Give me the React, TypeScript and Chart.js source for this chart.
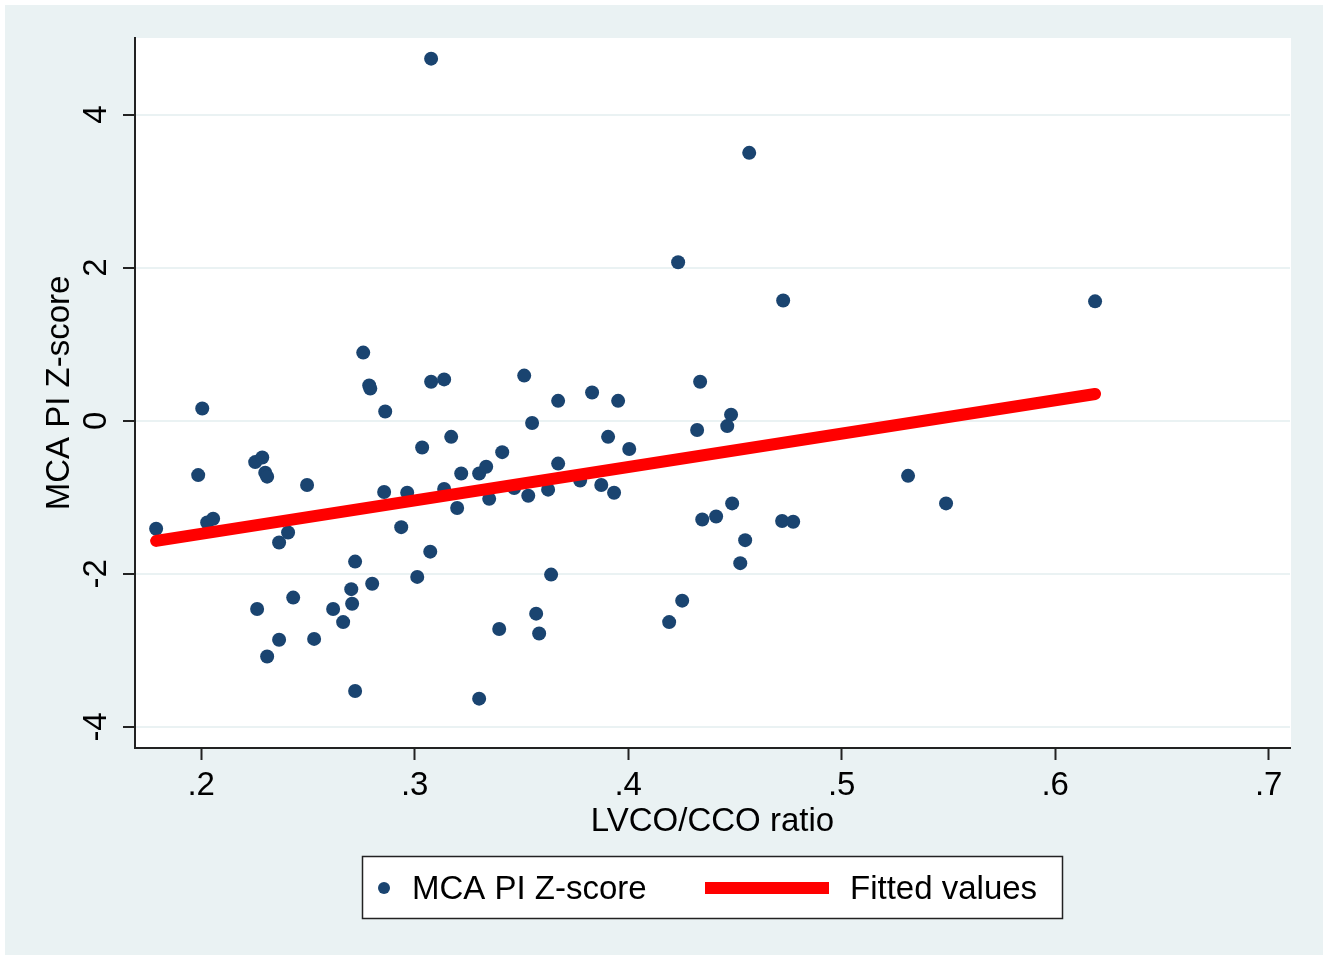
import React, { useEffect, useRef } from 'react';
import { Chart, registerables } from 'chart.js';

Chart.register(...registerables);

// LVCO/CCO ratio (x) and MCA PI Z-score (y)
const lvcoRatio = [
  0.1789, 0.1986, 0.2005, 0.2028, 0.2056, 0.2253, 0.2286, 0.23, 0.2309, 0.2262,
  0.2309, 0.2365, 0.2365, 0.2407, 0.2431, 0.2496, 0.2529, 0.2618, 0.2665, 0.2703,
  0.2707, 0.2721, 0.2721, 0.2759, 0.2787, 0.2792, 0.2801, 0.2862, 0.2857, 0.2937,
  0.2965, 0.3012, 0.3035, 0.3077, 0.3138, 0.3073, 0.3077, 0.3138, 0.3171, 0.3199,
  0.3218, 0.3302, 0.3335, 0.3349, 0.3302, 0.3396, 0.341, 0.3466, 0.3513, 0.3532,
  0.355, 0.3569, 0.3583, 0.3625, 0.3639, 0.3672, 0.3672, 0.3775, 0.3831, 0.3874,
  0.3906, 0.3934, 0.3953, 0.4005, 0.4192, 0.4234, 0.4253, 0.4323, 0.4337, 0.4347,
  0.4412, 0.4464, 0.4482, 0.4487, 0.4525, 0.4548, 0.4567, 0.4721, 0.4726, 0.4773,
  0.5311, 0.5489, 0.6187,
];
const mcaZScore = [
  -1.41, -0.71, 0.16, -1.33, -1.28, -0.54, -0.48, -0.68, -0.73, -2.46,
  -3.08, -1.59, -2.86, -1.46, -2.31, -0.84, -2.85, -2.46, -2.63, -2.2,
  -2.39, -1.84, -3.53, 0.89, 0.46, 0.42, -2.13, 0.12, -0.93, -1.39,
  -0.94, -2.04, -0.35, 0.51, 0.54, -1.71, 4.73, -0.89, -0.21, -1.14,
  -0.69, -0.69, -0.6, -1.02, -3.63, -2.72, -0.41, -0.88, 0.59, -0.98,
  -0.03, -2.52, -2.78, -0.9, -2.01, 0.26, -0.56, -0.78, 0.37, -0.84,
  -0.21, -0.94, 0.26, -0.37, -2.63, 2.07, -2.35, -0.12, 0.51, -1.29,
  -1.25, -0.07, 0.08, -1.08, -1.86, -1.56, 3.5, -1.31, 1.57, -1.32,
  -0.72, -1.08, 1.56,
];
// Fitted regression line end points
const fitX = [0.1789, 0.6187];
const fitY = [-1.57, 0.35];

const xTicks = [0.2, 0.3, 0.4, 0.5, 0.6, 0.7];
const xTickLabels = ['.2', '.3', '.4', '.5', '.6', '.7'];
const yTicks = [-4, -2, 0, 2, 4];
const yTickLabels = ['-4', '-2', '0', '2', '4'];
const seriesLabels = ['MCA PI Z-score', 'Fitted values'];
const xTitle = 'LVCO/CCO ratio';
const yTitle = 'MCA PI Z-score';

const FONT = '"Liberation Sans", Arial, Helvetica, sans-serif';
const NAVY = '#1a4470';
const RED = '#ff0000';
const PANEL = '#eaf2f3';
const INK = '#222222';
const FS = 33;

const backgroundPlugin = {
  id: 'stataBackground',
  beforeDraw(chart: any) {
    const { ctx, chartArea } = chart;
    ctx.save();
    ctx.fillStyle = '#ffffff';
    ctx.fillRect(0, 0, chart.width, chart.height);
    ctx.fillStyle = PANEL;
    ctx.fillRect(5, 5, 1318, 950);
    ctx.fillStyle = '#ffffff';
    ctx.fillRect(chartArea.left, chartArea.top, chartArea.right - chartArea.left + 1, chartArea.bottom - chartArea.top);
    ctx.restore();
  },
};

const yTickLabelPlugin = {
  id: 'rotatedYTicks',
  afterDraw(chart: any) {
    const { ctx } = chart;
    const ys = chart.scales.y;
    ctx.save();
    ctx.font = `${FS}px ${FONT}`;
    ctx.fillStyle = '#000000';
    ctx.textAlign = 'center';
    ctx.textBaseline = 'middle';
    ys.ticks.forEach((t: any) => {
      const idx = yTicks.indexOf(t.value);
      if (idx < 0) return;
      const py = ys.getPixelForValue(t.value);
      ctx.save();
      ctx.translate(97, py);
      ctx.rotate(-Math.PI / 2);
      ctx.fillText(yTickLabels[idx], 0, 0);
      ctx.restore();
    });
    ctx.restore();
  },
};

const legendPlugin = {
  id: 'boxLegend',
  afterDraw(chart: any) {
    const { ctx } = chart;
    const ds = chart.data.datasets;
    const scatter = ds.find((d: any) => !d.showLine);
    const line = ds.find((d: any) => d.showLine);
    ctx.save();
    ctx.fillStyle = '#ffffff';
    ctx.fillRect(362, 856, 700, 62);
    ctx.strokeStyle = INK;
    ctx.lineWidth = 1.5;
    ctx.strokeRect(362.5, 856.5, 700, 62);
    const cy = 888;
    ctx.fillStyle = scatter.backgroundColor;
    ctx.beginPath();
    ctx.arc(384, cy, 6, 0, Math.PI * 2);
    ctx.fill();
    ctx.font = `${FS}px ${FONT}`;
    ctx.fillStyle = '#000000';
    ctx.textAlign = 'left';
    ctx.textBaseline = 'middle';
    ctx.fillText(scatter.label, 412, cy + 2);
    ctx.fillStyle = line.borderColor;
    ctx.fillRect(705, cy - 6, 124, 12);
    ctx.fillStyle = '#000000';
    ctx.fillText(line.label, 850, cy + 2);
    ctx.restore();
  },
};

export default function App() {
  const canvasRef = useRef<HTMLCanvasElement | null>(null);

  useEffect(() => {
    const canvas = canvasRef.current;
    if (!canvas) return;
    const chart = new Chart(canvas, {
      type: 'scatter',
      data: {
        datasets: [
          {
            label: seriesLabels[0],
            data: lvcoRatio.map((x, i) => ({ x, y: mcaZScore[i] })),
            backgroundColor: NAVY,
            borderColor: NAVY,
            pointRadius: 7,
            pointBorderWidth: 0,
            pointHoverRadius: 7,
            showLine: false,
            order: 2,
          },
          {
            label: seriesLabels[1],
            data: fitX.map((x, i) => ({ x, y: fitY[i] })),
            borderColor: RED,
            backgroundColor: RED,
            borderWidth: 12,
            borderCapStyle: 'round',
            pointRadius: 0,
            pointHoverRadius: 0,
            showLine: true,
            fill: false,
            order: 1,
          },
        ],
      },
      options: {
        responsive: false,
        maintainAspectRatio: false,
        animation: false,
        devicePixelRatio: 1,
        layout: { padding: { left: 0, top: 38, right: 42, bottom: 112 } },
        plugins: {
          legend: { display: false },
          tooltip: { enabled: false },
        },
        scales: {
          x: {
            type: 'linear',
            min: 0.169,
            max: 0.71,
            afterBuildTicks: (axis: any) => {
              axis.ticks = xTicks.map((value) => ({ value }));
            },
            afterFit: (axis: any) => {
              axis.height = 100;
            },
            grid: {
              display: true,
              drawOnChartArea: false,
              drawTicks: true,
              tickLength: 12,
              tickColor: INK,
              tickWidth: 2,
            },
            border: { display: true, color: INK, width: 2 },
            ticks: {
              color: '#000000',
              font: { family: FONT, size: FS },
              padding: 6,
              maxRotation: 0,
              minRotation: 0,
              callback: (v: any) => {
                const i = xTicks.indexOf(v);
                return i >= 0 ? xTickLabels[i] : '';
              },
            },
            title: {
              display: true,
              text: xTitle,
              color: '#000000',
              font: { family: FONT, size: FS },
              padding: { top: 0, bottom: 6 },
            },
          },
          y: {
            type: 'linear',
            min: -4.275,
            max: 5.0,
            afterBuildTicks: (axis: any) => {
              axis.ticks = yTicks.map((value) => ({ value }));
            },
            afterFit: (axis: any) => {
              axis.width = 135;
            },
            grid: {
              display: true,
              drawOnChartArea: true,
              color: PANEL,
              lineWidth: 2,
              drawTicks: true,
              tickLength: 12,
              tickColor: INK,
              tickWidth: 2,
            },
            border: { display: true, color: INK, width: 2 },
            ticks: { display: false },
            title: {
              display: true,
              text: yTitle,
              color: '#000000',
              font: { family: FONT, size: FS },
              padding: { top: 40, bottom: 0 },
            },
          },
        },
      },
      plugins: [backgroundPlugin, yTickLabelPlugin, legendPlugin],
    } as any);
    return () => chart.destroy();
  }, []);

  return (
    <div style={{ position: 'absolute', left: 0, top: 0, width: 1332, height: 960 }}>
      <canvas ref={canvasRef} width={1332} height={960} style={{ display: 'block' }} />
    </div>
  );
}
